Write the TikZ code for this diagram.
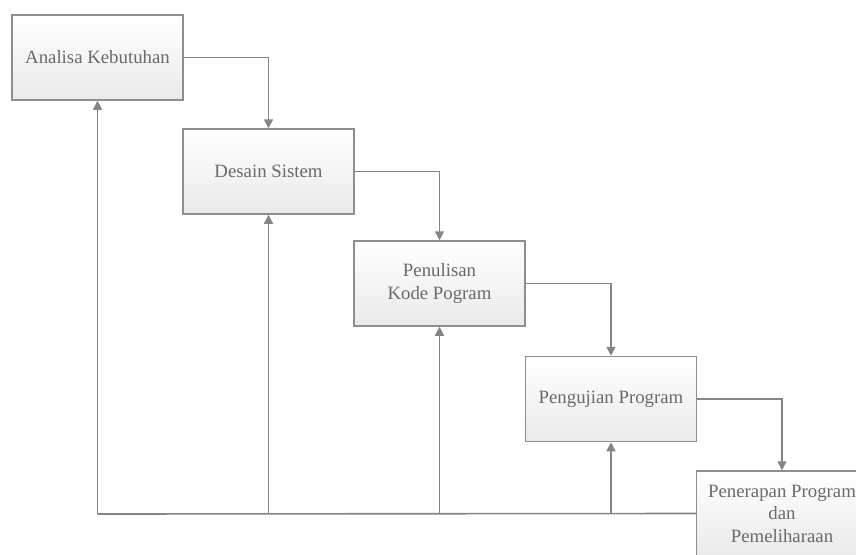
\documentclass[tikz,border=0pt]{standalone}
\usepackage{fontspec}
\setmainfont{Liberation Serif}
\usetikzlibrary{arrows.meta}
\begin{document}
\begin{tikzpicture}[x=1pt,y=-1pt,
  stagebox/.style={draw=boxline, line width=1.5pt, top color=white, bottom color=boxfill,
    minimum width=171pt, minimum height=85pt, inner sep=0pt, align=center,
    text=textgray, font=\fontsize{18.8}{22.5}\selectfont},
  flow/.style={draw=linegray, line width=1.6pt, -{Triangle[width=9pt,length=9pt]}},
  plain/.style={draw=linegray, line width=1.6pt}]
\definecolor{boxline}{HTML}{8E8E8E}
\definecolor{boxfill}{HTML}{EAEAEA}
\definecolor{linegray}{HTML}{858585}
\definecolor{textgray}{HTML}{6A6A6A}
\useasboundingbox (0,0) rectangle (856,554);
\begin{scope}
\clip (0,0) rectangle (856,554);
\node[stagebox] (a) at (97.5,57.5) {Analisa Kebutuhan};
\node[stagebox] (d) at (268.5,171.5) {Desain Sistem};
\node[stagebox] (k) at (439.5,283.5) {Penulisan\\Kode Pogram};
\node[stagebox] (u) at (611,399) {Pengujian Program};
\node[stagebox] (p) at (782,513.5) {Penerapan Program\\dan\\Pemeliharaan};
\coordinate (bl) at (97.5,514);
\draw[flow] (a.east) -| (d.north);
\draw[flow] (d.east) -| (k.north);
\draw[flow] (k.east) -| (u.north);
\draw[flow] (u.east) -| (p.north);
\draw[plain] (p.west) -- (bl);
\draw[flow] (bl) -- (a.south);
\draw[flow] (d.south |- bl) -- (d.south);
\draw[flow] (k.south |- bl) -- (k.south);
\draw[flow] (u.south |- bl) -- (u.south);
\end{scope}
\end{tikzpicture}
\end{document}
